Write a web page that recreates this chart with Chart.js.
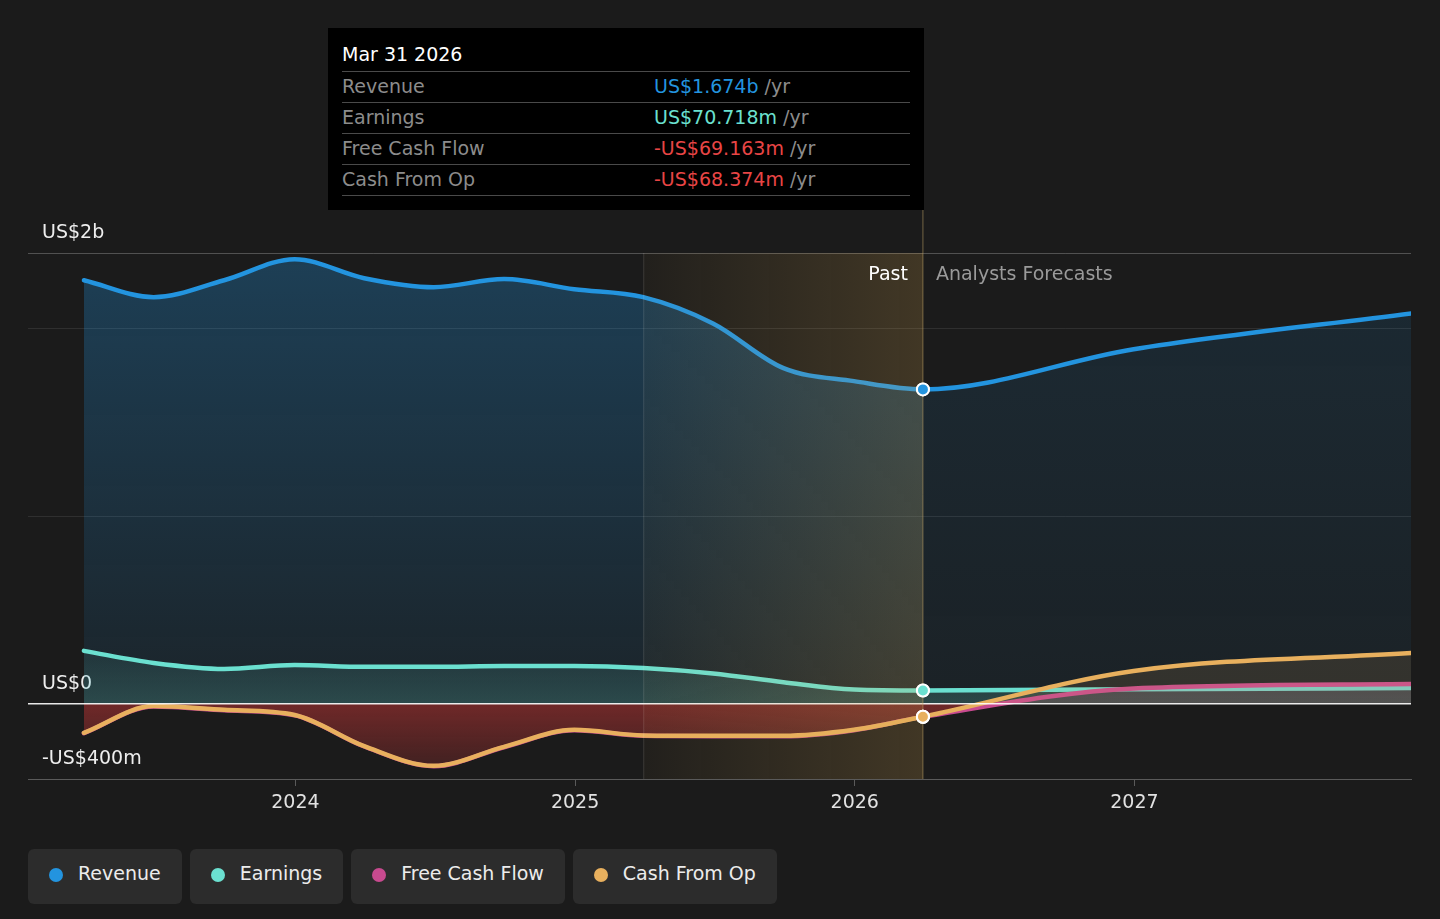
<!DOCTYPE html>
<html>
<head>
<meta charset="utf-8">
<script src="https://cdn.jsdelivr.net/npm/chart.js@4.4.1/dist/chart.umd.min.js"></script>
<style>
html,body{margin:0;padding:0;background:#1b1b1b;width:1440px;height:919px;overflow:hidden;font-family:"DejaVu Sans",sans-serif;}
#wrap{position:absolute;left:0;top:0;width:1440px;height:830px;}
#tip{position:absolute;left:328px;top:28px;width:596px;height:182px;background:#000;box-sizing:border-box;padding:0 14px;font-size:19px;}
#tip .tt{height:44px;box-sizing:border-box;padding-top:15px;line-height:22px;color:#fff;border-bottom:1px solid #4a4a4a;}
#tip .row{height:31px;box-sizing:border-box;line-height:29px;border-bottom:1px solid #4a4a4a;color:#8c8c8c;white-space:nowrap;}
#tip .lab{display:inline-block;width:312px;}
#legend{position:absolute;left:28px;top:849px;display:flex;gap:8px;}
.btn{height:55px;box-sizing:border-box;padding:0 21px 7px 21px;background:#2c2c2c;border-radius:6px;display:flex;align-items:center;color:#ececec;font-size:19px;white-space:nowrap;}
.dot{width:14px;height:14px;border-radius:50%;margin-right:15px;margin-top:3px;}
</style>
</head>
<body>
<div id="wrap"><canvas id="c"></canvas></div>
<div id="tip"></div>
<div id="legend"></div>
<script>
// ---------- data ----------
const dates = ['2023-03-31','2023-06-30','2023-09-30','2023-12-31','2024-03-31','2024-06-30','2024-09-30','2024-12-31','2025-03-31','2025-06-30','2025-09-30','2025-12-31','2026-03-31','2026-12-31','2027-12-31'];
const revenue = [2255, 2165, 2255, 2367, 2266, 2218, 2261, 2207, 2165, 2025, 1787, 1718, 1674, 1888, 2080];
const earnings = [282, 218, 186, 207, 197, 197, 202, 202, 191, 162, 115, 76, 70.718, 78, 84];
const freeCashFlow = [-156, -14, -34, -61, -227, -332, -231, -140, -170, -172, -172, -140, -69.163, 82, 106];
const cashFromOp = [-154, -12, -32, -59, -225, -330, -229, -138, -168, -170, -170, -138, -68.374, 175, 271];
const seriesNames = ['Revenue', 'Earnings', 'Free Cash Flow', 'Cash From Op'];
const seriesColors = ['#2394df', '#6be0d0', '#c84a8f', '#e8b05e'];
const xTickValues = [2024, 2025, 2026, 2027];
const xTickLabels = ['2024', '2025', '2026', '2027'];
const yTickValues = [-400, 0, 1000, 2000, 2400];
const yTickLabels = ['-US$400m', 'US$0', '', '', 'US$2b'];
const xMinDate = '2023-01-17';
const xMaxDate = '2027-12-28';
const pastStartDate = '2025-03-31';
const splitDate = '2026-03-31';
const tooltipTitle = 'Mar 31 2026';
const tooltipValues = ['US$1.674b', 'US$70.718m', '-US$69.163m', '-US$68.374m'];
const tooltipValueColors = ['#2394df', '#6be0d0', '#e84545', '#e84545'];
const pastLabel = 'Past';
const forecastLabel = 'Analysts Forecasts';
const tooltipBottom = 210;
const FONT = '"DejaVu Sans", sans-serif';

function toYear(s){
  const d = Date.parse(s + 'T00:00:00Z');
  const y = new Date(d).getUTCFullYear();
  const a = Date.UTC(y,0,1), b = Date.UTC(y+1,0,1);
  return y + (d - a) / (b - a);
}
const xs = dates.map(toYear);
const splitX = toYear(splitDate);
const splitIndex = dates.indexOf(splitDate);
const pts = arr => arr.map((v,i)=>({x: xs[i], y: v}));

const gradCache = {};
function vGrad(chart, key, v0, c0, v1, c1){
  const area = chart.chartArea;
  if (!area || !chart.scales.y) return c0;
  const y = chart.scales.y;
  const p0 = y.getPixelForValue(v0), p1 = y.getPixelForValue(v1);
  const k = key + '|' + p0.toFixed(1) + '|' + p1.toFixed(1);
  if (!gradCache[k]) {
    const g = chart.ctx.createLinearGradient(0, p0, 0, p1);
    g.addColorStop(0, c0); g.addColorStop(1, c1);
    gradCache[k] = g;
  }
  return gradCache[k];
}

const markerRadius = c => (c.dataIndex === splitIndex ? 6 : 0);
function base(i){
  return {
    label: seriesNames[i],
    borderColor: seriesColors[i],
    pointBackgroundColor: seriesColors[i],
    pointBorderColor: '#ffffff',
    pointBorderWidth: 2,
    pointRadius: markerRadius,
    pointHoverRadius: markerRadius,
    borderWidth: 4.5,
    borderCapStyle: 'round',
    borderJoinStyle: 'round',
    cubicInterpolationMode: 'monotone',
  };
}

const datasets = [
  Object.assign(base(3), {
    data: pts(cashFromOp), order: 0,
    fill: {target: 'origin', above: 'rgba(232,176,94,0.12)', below: 'rgba(0,0,0,0)'}
  }),
  Object.assign(base(2), {
    data: pts(freeCashFlow), order: 1,
    fill: {target: 'origin', above: 'rgba(200,74,143,0.13)'},
    backgroundColor: c => vGrad(c.chart, 'fcfb', 0, 'rgba(230,60,60,0.42)', -400, 'rgba(230,60,60,0.14)'),
  }),
  Object.assign(base(1), {
    data: pts(earnings), order: 2,
    fill: 'origin',
    backgroundColor: c => vGrad(c.chart, 'earn', 300, 'rgba(107,224,208,0.07)', 0, 'rgba(107,224,208,0.2)'),
  }),
  Object.assign(base(0), {
    data: pts(revenue), order: 3,
    fill: 'origin',
    backgroundColor: c => vGrad(c.chart, 'rev', 2400, 'rgba(35,148,223,0.30)', 0, 'rgba(35,148,223,0.08)'),
    segment: {
      backgroundColor: s => (s.p0.parsed.x >= splitX - 1e-6 ? vGrad(s.chart, 'revf', 2400, 'rgba(35,148,223,0.13)', 0, 'rgba(35,148,223,0.06)') : undefined)
    }
  }),
];

const overlay = {
  id: 'overlay',
  afterDatasetsDraw(chart){
    const {ctx, chartArea: a, scales: {x, y}} = chart;
    const y0 = y.getPixelForValue(0);
    ctx.save();
    // zero line
    ctx.strokeStyle = 'rgba(255,255,255,0.9)';
    ctx.lineWidth = 1.5;
    ctx.beginPath(); ctx.moveTo(a.left, y0); ctx.lineTo(a.right, y0); ctx.stroke();
    // past band
    const x0 = x.getPixelForValue(toYear(pastStartDate));
    const x1 = x.getPixelForValue(splitX);
    const g = ctx.createLinearGradient(x0, 0, x1, 0);
    g.addColorStop(0, 'rgba(220,170,80,0.04)');
    g.addColorStop(1, 'rgba(220,170,80,0.2)');
    ctx.fillStyle = g;
    ctx.fillRect(x0, a.top, x1 - x0, a.bottom - a.top);
    ctx.strokeStyle = 'rgba(255,255,255,0.12)';
    ctx.lineWidth = 1;
    ctx.beginPath(); ctx.moveTo(x0 + 0.5, a.top); ctx.lineTo(x0 + 0.5, a.bottom); ctx.stroke();
    ctx.strokeStyle = 'rgba(190,160,100,0.55)';
    ctx.beginPath(); ctx.moveTo(x1, tooltipBottom); ctx.lineTo(x1, a.bottom); ctx.stroke();
    // labels
    ctx.font = '19px ' + FONT;
    ctx.textBaseline = 'middle';
    ctx.textAlign = 'right';
    ctx.fillStyle = '#ffffff';
    ctx.fillText(pastLabel, x1 - 15, a.top + 22);
    ctx.textAlign = 'left';
    ctx.fillStyle = '#9a9a9a';
    ctx.fillText(forecastLabel, x1 + 13, a.top + 22);
    ctx.restore();
    // markers on top
    for (let i = chart.data.datasets.length - 1; i >= 0; i--) {
      const meta = chart.getDatasetMeta(i);
      const el = meta.data[splitIndex];
      if (el) el.draw(ctx, a);
    }
  }
};

const chart = new Chart(document.getElementById('c'), {
  type: 'line',
  data: {datasets},
  plugins: [overlay],
  options: {
    responsive: true,
    maintainAspectRatio: false,
    animation: false,
    events: [],
    layout: {padding: {left: 28, right: 29, top: 253, bottom: 0}},
    plugins: {legend: {display: false}, tooltip: {enabled: false}},
    scales: {
      x: {
        type: 'linear',
        min: toYear(xMinDate),
        max: toYear(xMaxDate),
        afterBuildTicks: s => { s.ticks = xTickValues.map(v => ({value: v})); },
        afterFit: s => { s.height = 51; },
        ticks: {
          callback: v => xTickLabels[xTickValues.indexOf(v)],
          color: '#e2e2e2',
          font: {family: FONT, size: 19},
          padding: 6,
          maxRotation: 0,
          autoSkip: false,
        },
        grid: {drawOnChartArea: false, drawTicks: true, tickLength: 7, color: 'rgba(255,255,255,0.28)'},
        border: {display: true, color: 'rgba(255,255,255,0.28)', width: 1},
      },
      y: {
        type: 'linear',
        min: -400,
        max: 2400,
        afterBuildTicks: s => { s.ticks = yTickValues.map(v => ({value: v})); },
        afterFit: s => { s.width = 0; },
        ticks: {
          mirror: true,
          padding: 14,
          labelOffset: -19.5,
          callback: v => yTickLabels[yTickValues.indexOf(v)],
          color: '#eeeeee',
          font: {family: FONT, size: 19},
          autoSkip: false,
        },
        grid: {
          drawTicks: false,
          color: c => c.tick.value === 2400 ? 'rgba(255,255,255,0.24)' : ((c.tick.value === 0 || c.tick.value === -400) ? 'rgba(0,0,0,0)' : 'rgba(255,255,255,0.09)'),
        },
        border: {display: false},
      }
    }
  }
});

// tooltip box
const tip = document.getElementById('tip');
let h = '<div class="tt">' + tooltipTitle + '</div>';
seriesNames.forEach((n, i) => {
  h += '<div class="row"><span class="lab">' + n + '</span><span style="color:' + tooltipValueColors[i] + '">' + tooltipValues[i] + '</span> /yr</div>';
});
tip.innerHTML = h;
// legend
const leg = document.getElementById('legend');
seriesNames.forEach((n, i) => {
  const b = document.createElement('div');
  b.className = 'btn';
  b.innerHTML = '<span class="dot" style="background:' + seriesColors[i] + '"></span>' + n;
  leg.appendChild(b);
});
</script>
</body>
</html>
